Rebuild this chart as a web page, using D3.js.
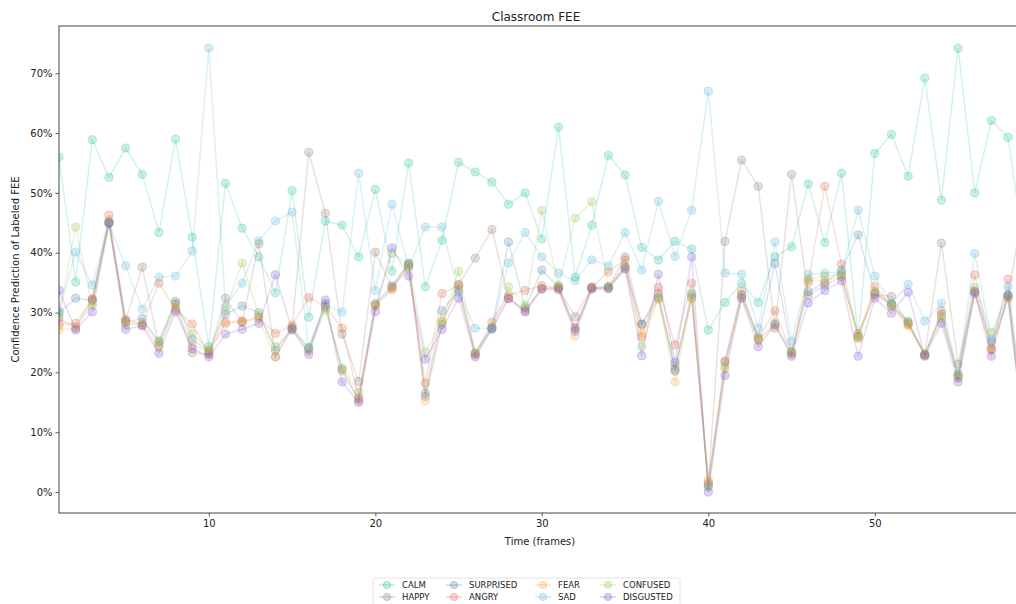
<!DOCTYPE html>
<html>
<head>
<meta charset="utf-8">
<script src="https://cdn.jsdelivr.net/npm/d3@7"></script>
<style>
    body { margin: 0; background: #fff; }
    text { font-family: "DejaVu Sans", sans-serif; fill: #222; }
</style>
</head>
<body>
<div id="fee-chart"></div>
<script>
// data (values in %)
var frames = d3.range(1, 60);
var emotions = ["CALM", "HAPPY", "SURPRISED", "ANGRY", "FEAR", "SAD", "CONFUSED", "DISGUSTED"];
var colors = ["#1fbf9c", "#8a7462", "#4d7ea6", "#e0623f", "#f7a23c", "#52b2d9", "#8cc24a", "#7b4bd8"];

var calm = [56.0, 35.1, 58.9, 52.6, 57.5, 53.1, 43.4, 59.0, 42.6, 24.3,
    51.6, 44.1, 39.3, 33.3, 50.4, 29.2, 45.3, 44.6, 39.3, 50.6,
    36.9, 55.0, 34.3, 42.1, 55.1, 53.5, 51.8, 48.1, 50.0, 42.3,
    61.0, 35.9, 44.6, 56.3, 53.0, 40.9, 38.8, 41.9, 40.6, 27.1,
    31.7, 34.9, 31.7, 39.3, 41.0, 51.5, 41.7, 53.3, 25.9, 56.6,
    59.8, 52.8, 69.2, 48.8, 74.2, 50.0, 62.1, 59.3, 40.0];
var happy = [29.0, 27.5, 32.2, 45.0, 28.7, 37.6, 24.5, 31.4, 23.3, 23.0,
    32.4, 28.4, 41.5, 22.6, 27.5, 56.8, 46.6, 26.4, 18.5, 40.1,
    34.2, 38.1, 16.0, 28.0, 34.7, 39.1, 43.9, 32.4, 30.4, 34.1,
    34.1, 29.3, 34.2, 34.2, 39.3, 28.1, 33.2, 20.5, 32.5, 1.3,
    41.9, 55.5, 51.1, 27.4, 53.1, 32.9, 34.6, 36.0, 26.5, 33.0,
    32.7, 28.2, 23.0, 41.6, 21.4, 33.5, 24.0, 32.5, 49.0];
var surprised = [30.0, 32.4, 32.0, 45.2, 28.4, 29.0, 25.1, 31.9, 25.5, 23.5,
    29.7, 31.1, 30.0, 23.7, 27.3, 24.2, 31.5, 20.5, 15.5, 31.5,
    34.5, 38.3, 16.5, 30.3, 33.8, 23.2, 27.4, 41.8, 30.8, 37.1,
    34.3, 27.3, 34.1, 34.3, 37.6, 28.0, 32.4, 20.2, 33.0, 1.0,
    21.7, 33.0, 25.9, 38.2, 23.5, 33.5, 35.0, 37.1, 43.0, 33.2,
    31.4, 28.5, 23.0, 29.7, 19.2, 33.6, 25.1, 32.8, 9.0];
var angry = [28.0, 28.2, 32.3, 46.3, 28.8, 28.0, 34.9, 30.5, 28.1, 23.2,
    28.4, 28.6, 29.2, 26.5, 27.9, 32.5, 31.0, 27.4, 15.8, 31.3,
    34.0, 37.8, 18.2, 33.2, 34.5, 23.0, 28.4, 32.9, 33.7, 34.5,
    34.2, 27.5, 34.3, 36.8, 38.8, 25.9, 34.2, 24.6, 34.9, 1.6,
    21.9, 33.6, 25.6, 30.3, 23.2, 35.0, 51.1, 38.1, 26.0, 34.4,
    31.2, 28.0, 22.9, 30.3, 19.5, 36.3, 23.8, 35.6, 9.5];
var fear = [27.2, 27.3, 31.5, 45.5, 28.2, 27.8, 24.2, 30.8, 24.5, 23.6,
    28.1, 28.4, 29.0, 22.6, 27.2, 23.5, 30.8, 20.2, 15.2, 31.0,
    33.8, 37.6, 15.2, 28.6, 34.0, 22.9, 27.5, 32.6, 30.2, 34.0,
    34.0, 26.1, 34.0, 34.0, 37.4, 26.5, 32.2, 18.4, 32.3, 2.0,
    20.6, 32.5, 25.4, 27.8, 23.0, 35.4, 35.3, 36.2, 25.6, 33.3,
    31.0, 27.8, 22.8, 29.4, 19.0, 33.4, 23.7, 32.4, 8.5];
var sad = [30.2, 40.1, 34.6, 45.0, 37.8, 30.6, 35.9, 36.1, 40.3, 74.2,
    31.0, 34.9, 42.0, 45.3, 46.8, 24.0, 31.2, 30.1, 53.3, 33.7,
    48.1, 37.5, 44.3, 44.3, 33.4, 27.4, 27.4, 38.3, 43.4, 39.3,
    36.6, 35.3, 38.8, 37.8, 43.4, 37.1, 48.6, 39.4, 47.1, 67.0,
    36.6, 36.4, 27.4, 41.8, 25.2, 36.4, 36.6, 36.8, 47.1, 36.1,
    31.6, 34.7, 28.6, 31.6, 19.8, 39.9, 25.5, 34.4, 12.0];
var confused = [29.5, 44.3, 31.1, 45.0, 28.0, 28.3, 25.3, 31.6, 26.5, 23.8,
    30.4, 38.3, 29.5, 24.3, 27.4, 23.8, 30.4, 20.7, 16.7, 31.2,
    39.9, 38.0, 23.4, 28.4, 36.9, 23.3, 27.6, 34.3, 31.2, 47.1,
    34.6, 45.8, 48.5, 34.4, 37.8, 24.3, 32.6, 21.0, 33.3, 0.8,
    21.0, 32.8, 25.5, 28.3, 23.3, 35.6, 36.1, 36.4, 25.9, 33.5,
    31.3, 28.4, 23.1, 29.0, 19.6, 34.2, 26.7, 33.0, 10.0];
var disgusted = [33.7, 27.1, 30.1, 44.9, 27.2, 27.8, 23.2, 30.1, 24.0, 22.6,
    26.4, 27.2, 28.2, 36.3, 27.1, 23.0, 32.1, 18.4, 15.0, 30.2,
    40.8, 36.1, 22.2, 27.2, 32.4, 22.6, 27.2, 32.3, 30.1, 33.9,
    33.8, 26.9, 33.9, 34.0, 37.3, 22.8, 36.4, 21.7, 39.3, 0.0,
    19.5, 32.4, 24.3, 28.0, 22.7, 31.6, 33.7, 35.3, 22.7, 32.4,
    29.9, 33.4, 22.7, 28.2, 18.4, 33.2, 22.7, 32.9, 8.0];

var seriesValues = [calm, happy, surprised, angry, fear, sad, confused, disgusted];
var yTicks = [0, 10, 20, 30, 40, 50, 60, 70];
var xTicks = [10, 20, 30, 40, 50];

var width = 1016, height = 604;
var plotLeft = 59, plotTop = 26, plotBottom = 513, plotRight = 1018;

var svg = d3.select("#fee-chart")
    .append("svg")
    .attr("width", width)
    .attr("height", height);

// scales
var x = d3.scaleLinear().domain([1, 58.6]).range([plotLeft, plotRight]);
var y = d3.scaleLinear().domain([-3.5, 77.9]).range([plotBottom, plotTop]);

svg.append("clipPath")
    .attr("id", "plot-clip")
    .append("rect")
    .attr("x", plotLeft)
    .attr("y", plotTop)
    .attr("width", plotRight - plotLeft)
    .attr("height", plotBottom - plotTop);

// lines + markers, one group per emotion
var line = d3.line()
    .x(function (d) { return x(d.f); })
    .y(function (d) { return y(d.v); });

var plot = svg.append("g").attr("clip-path", "url(#plot-clip)");

emotions.forEach(function (name, i) {
    var pts = frames.map(function (f, j) { return { f: f, v: seriesValues[i][j] }; });
    var g = plot.append("g").attr("class", "series");
    g.append("path")
        .datum(pts)
        .attr("d", line)
        .attr("fill", "none")
        .attr("stroke", colors[i])
        .attr("stroke-opacity", 0.2)
        .attr("stroke-width", 1.5);
    g.selectAll("circle")
        .data(pts)
        .enter()
        .append("circle")
        .attr("cx", function (d) { return x(d.f); })
        .attr("cy", function (d) { return y(d.v); })
        .attr("r", 4.1)
        .attr("fill", colors[i])
        .attr("fill-opacity", 0.24)
        .attr("stroke", colors[i])
        .attr("stroke-opacity", 0.28)
        .attr("stroke-width", 1);
});

// axes
var xAxis = d3.axisBottom(x).tickValues(xTicks).tickSize(3.5).tickPadding(3);
var yAxis = d3.axisLeft(y).tickValues(yTicks).tickSize(3.5).tickPadding(3)
    .tickFormat(function (d) { return d + "%"; });

svg.append("g")
    .attr("transform", "translate(0," + plotBottom + ")")
    .call(xAxis)
    .call(function (g) { g.select(".domain").remove(); });

svg.append("g")
    .attr("transform", "translate(" + plotLeft + ",0)")
    .call(yAxis)
    .call(function (g) { g.select(".domain").remove(); });

svg.selectAll(".tick text").attr("font-size", 10).attr("font-family", "DejaVu Sans").attr("fill", "#222");
svg.selectAll(".tick line").attr("stroke", "#333").attr("stroke-width", 0.8);

// spines
svg.append("rect")
    .attr("x", plotLeft)
    .attr("y", plotTop)
    .attr("width", plotRight - plotLeft)
    .attr("height", plotBottom - plotTop)
    .attr("fill", "none")
    .attr("stroke", "#333")
    .attr("stroke-width", 0.9);

// titles
svg.append("text")
    .attr("x", 536)
    .attr("y", 21)
    .attr("text-anchor", "middle")
    .attr("font-size", 12)
    .text("Classroom FEE");

svg.append("text")
    .attr("x", 540)
    .attr("y", 545)
    .attr("text-anchor", "middle")
    .attr("font-size", 10)
    .text("Time (frames)");

svg.append("text")
    .attr("transform", "translate(19," + ((plotTop + plotBottom) / 2) + ") rotate(-90)")
    .attr("text-anchor", "middle")
    .attr("font-size", 10)
    .text("Confidence Prediction of Labeled FEE");

// legend, 4 columns filled column by column
var legend = svg.append("g").attr("class", "legend");
legend.append("rect")
    .attr("x", 373)
    .attr("y", 578)
    .attr("width", 307)
    .attr("height", 32)
    .attr("rx", 2)
    .attr("fill", "#fff")
    .attr("stroke", "#ddd")
    .attr("stroke-width", 0.8);

var colX = [387, 454, 543, 608];
var rowY = [585, 597];

emotions.forEach(function (name, i) {
    var cx = colX[Math.floor(i / 2)];
    var cy = rowY[i % 2];
    legend.append("line")
        .attr("x1", cx - 8).attr("x2", cx + 8)
        .attr("y1", cy).attr("y2", cy)
        .attr("stroke", colors[i])
        .attr("stroke-opacity", 0.3)
        .attr("stroke-width", 1.5);
    legend.append("circle")
        .attr("cx", cx).attr("cy", cy).attr("r", 3.6)
        .attr("fill", colors[i]).attr("fill-opacity", 0.25)
        .attr("stroke", colors[i]).attr("stroke-opacity", 0.35);
    legend.append("text")
        .attr("x", cx + 15)
        .attr("y", cy + 3)
        .attr("font-size", 8.5)
        .text(name);
});
</script>
</body>
</html>
